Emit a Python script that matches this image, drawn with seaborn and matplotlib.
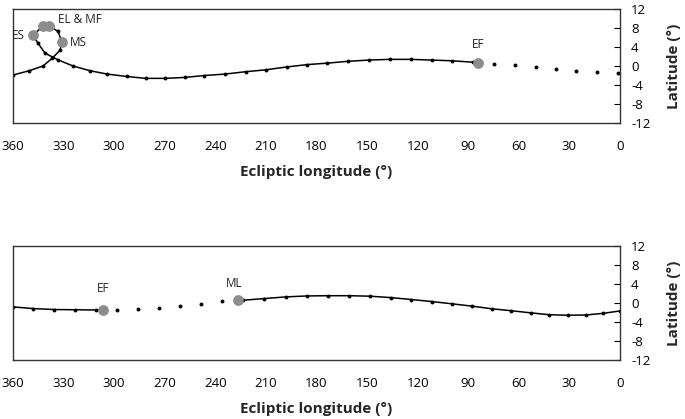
# Ecliptic track of the comet: two panels, latitude vs ecliptic longitude

import pandas as pd
import matplotlib
matplotlib.use("Agg")
import matplotlib.pyplot as plt
import seaborn as sns

# top panel: solid track (ordered along the path, loop included)
top_lon = [360.0, 350.5, 342.2, 336.9, 332.1, 331.0, 333.3, 338.7, 342.2, 348.1,
           345.2, 341.0, 333.3, 324.4, 314.3, 304.1, 292.6, 281.3, 269.7, 258.0,
           246.5, 234.3, 222.0, 210.0, 197.7, 185.5, 173.6, 161.1, 148.9, 136.4,
           124.1, 111.7, 99.5, 87.0, 84.4]
top_lat = [-1.9, -1.0, 0.0, 1.6, 3.3, 5.0, 7.3, 8.4, 8.4, 6.5,
           4.8, 2.7, 1.3, 0.0, -1.0, -1.7, -2.2, -2.6, -2.6, -2.4,
           -2.0, -1.7, -1.2, -0.8, -0.2, 0.3, 0.6, 1.0, 1.25, 1.4,
           1.4, 1.25, 1.1, 0.8, 0.7]
# top panel: dotted continuation (points only)
top_tail_lon = [74.7, 62.3, 50.0, 38.1, 26.1, 13.8, 1.4]
top_tail_lat = [0.4, 0.15, -0.3, -0.7, -1.0, -1.3, -1.5]
# top panel: events
top_ev_names = ["ES", "EL", "MF", "MS", "EF"]
top_ev_lon = [348.1, 342.2, 338.7, 331.0, 84.4]
top_ev_lat = [6.5, 8.4, 8.4, 5.0, 0.7]

# bottom panel: solid track before EF and after ML
bot_a_lon = [360.0, 348.0, 335.7, 323.2, 310.8, 306.8]
bot_a_lat = [-0.85, -1.2, -1.4, -1.45, -1.5, -1.45]
bot_tail_lon = [298.5, 286.0, 273.4, 261.0, 248.5, 236.2]
bot_tail_lat = [-1.4, -1.2, -1.0, -0.6, -0.2, 0.3]
bot_b_lon = [226.4, 223.4, 211.0, 198.3, 185.6, 173.2, 160.7, 148.3, 135.8, 123.8,
             111.5, 99.6, 87.5, 75.9, 64.5, 52.8, 41.9, 30.8, 20.2, 9.9, 0.0]
bot_b_lat = [0.55, 0.55, 0.9, 1.25, 1.45, 1.5, 1.5, 1.4, 1.1, 0.7,
             0.27, -0.2, -0.7, -1.25, -1.65, -2.1, -2.5, -2.6, -2.55, -2.2, -1.7]
bot_ev_names = ["EF", "ML"]
bot_ev_lon = [306.8, 226.4]
bot_ev_lat = [-1.45, 0.55]

x_ticks = list(range(0, 361, 30))
y_ticks = list(range(-12, 13, 4))

sns.set_style("white")
plt.rcParams['font.family'] = ['Open Sans', 'DejaVu Sans']
plt.rcParams['axes.unicode_minus'] = False

fig = plt.figure(figsize=(6.85, 4.19), dpi=100)
ax1 = fig.add_axes([0.019, 0.7064, 0.886, 0.2721])
ax2 = fig.add_axes([0.019, 0.1408, 0.886, 0.2728])

grey = "#8c8c8c"


def draw_track(ax, lon, lat):
    df = pd.DataFrame({"lon": lon, "lat": lat})
    sns.lineplot(data=df, x="lon", y="lat", sort=False, estimator=None,
                 color="black", linewidth=1.1, marker="o", markersize=2.8,
                 markeredgewidth=0, ax=ax)


def draw_dots(ax, lon, lat):
    sns.scatterplot(x=lon, y=lat, color="black", s=8, linewidth=0, ax=ax)


def draw_events(ax, lon, lat):
    sns.scatterplot(x=lon, y=lat, color=grey, s=60, linewidth=0, ax=ax,
                    zorder=5)


draw_track(ax1, top_lon, top_lat)
draw_dots(ax1, top_tail_lon, top_tail_lat)
draw_events(ax1, top_ev_lon, top_ev_lat)

draw_track(ax2, bot_a_lon, bot_a_lat)
draw_dots(ax2, bot_tail_lon, bot_tail_lat)
draw_track(ax2, bot_b_lon, bot_b_lat)
draw_events(ax2, bot_ev_lon, bot_ev_lat)

# event labels
lab = dict(fontsize=8.5, color="#222222")
ax1.text(353, 6.5, "ES", ha="right", va="center", **lab)
ax1.text(333.5, 9.8, "EL & MF", ha="left", va="center", **lab)
ax1.text(326.5, 5.0, "MS", ha="left", va="center", **lab)
ax1.text(84.4, 4.6, "EF", ha="center", va="center", **lab)
ax2.text(306.8, 3.0, "EF", ha="center", va="center", **lab)
ax2.text(229, 4.0, "ML", ha="center", va="center", **lab)

for ax in (ax1, ax2):
    ax.set_xlim(360, 0)
    ax.set_ylim(-12, 12)
    ax.set_xticks(x_ticks)
    ax.set_yticks(y_ticks)
    ax.yaxis.tick_right()
    ax.yaxis.set_label_position("right")
    ax.tick_params(axis="both", direction="in", length=4, width=0.8,
                   colors="black", labelsize=9.5)
    ax.tick_params(axis="y", pad=8)
    ax.tick_params(axis="x", pad=12)
    for s in ax.spines.values():
        s.set_visible(True)
        s.set_color("#333333")
        s.set_linewidth(1.0)
    ax.set_xlabel("Ecliptic longitude (°)", fontsize=11, fontweight="bold",
                  labelpad=9)
    ax.set_ylabel("Latitude (°)", fontsize=11, fontweight="bold",
                  labelpad=12)
    if ax.get_legend() is not None:
        ax.get_legend().remove()

fig.savefig("out.png", dpi=100)
